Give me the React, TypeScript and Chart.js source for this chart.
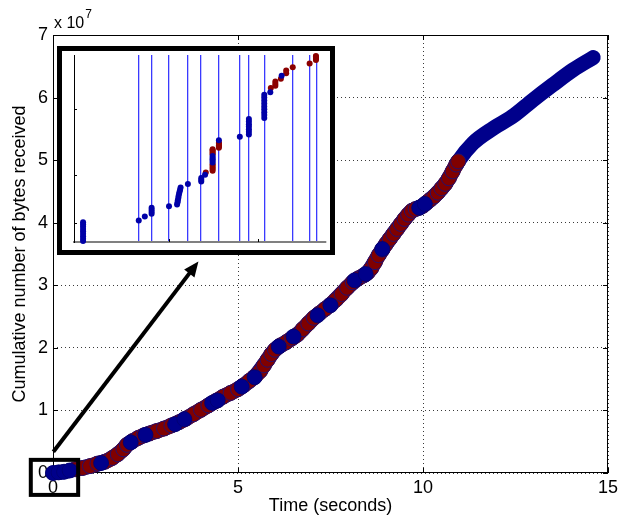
import React, { useEffect, useRef } from 'react';
import { Chart, registerables } from 'chart.js';

Chart.register(...registerables);

const FONT = '"Liberation Sans", Arial, Helvetica, sans-serif';

// ---- main axes ----
const xTicks = [0, 5, 10, 15];
const yTicks = [0, 1, 2, 3, 4, 5, 6, 7];
const xLabel = 'Time (seconds)';
const yLabel = 'Cumulative number of bytes received';
const yExponent = '7';

// ---- main series (time in s, bytes in units of 1e7) ----
const bandTime = [0, 0.3, 0.6, 1.0, 1.4, 1.6, 1.9, 2.0, 2.3, 2.6, 3.0, 3.4, 4.0, 4.6, 5.0, 5.45, 5.8, 6.0, 6.3, 6.6, 7.05, 7.5, 7.95, 8.25, 8.5, 8.8, 9.0, 9.4, 9.7, 9.9, 10.2, 10.6, 10.95, 11.35, 11.9, 12.4, 12.97, 13.5, 14.05, 14.6];
const bandBytes = [0, 0.02, 0.06, 0.11, 0.18, 0.24, 0.38, 0.45, 0.56, 0.63, 0.71, 0.81, 1.01, 1.22, 1.34, 1.54, 1.81, 1.97, 2.09, 2.21, 2.48, 2.69, 2.96, 3.11, 3.2, 3.48, 3.66, 3.98, 4.19, 4.24, 4.37, 4.62, 4.98, 5.27, 5.51, 5.69, 5.96, 6.2, 6.44, 6.64];

const redTime = [0.6, 0.8, 1.0, 1.2, 1.4, 1.6, 1.75, 1.9, 2.0, 2.15, 2.3, 2.45, 2.6, 2.8, 3.0, 3.2, 3.4, 3.6, 3.8, 4.0, 4.2, 4.4, 4.6, 4.8, 5.0, 5.15, 5.3, 5.45, 5.6, 5.7, 5.8, 5.9, 6.0, 6.15, 6.3, 6.45, 6.6, 6.75, 6.9, 7.05, 7.2, 7.35, 7.5, 7.65, 7.8, 7.95, 8.1, 8.25, 8.4, 8.5, 8.6, 8.7, 8.8, 8.9, 9.0, 9.1, 9.2, 9.3, 9.4, 9.5, 9.6, 9.7, 9.8, 9.9, 10.0, 10.1, 10.2, 10.3, 10.4, 10.5, 10.6, 10.7, 10.8, 10.9, 10.95];
const redBytes = [0.06, 0.08, 0.11, 0.15, 0.18, 0.24, 0.3, 0.38, 0.45, 0.51, 0.56, 0.6, 0.63, 0.67, 0.71, 0.76, 0.81, 0.87, 0.94, 1.01, 1.08, 1.15, 1.22, 1.28, 1.34, 1.4, 1.47, 1.54, 1.63, 1.72, 1.81, 1.9, 1.97, 2.04, 2.09, 2.15, 2.21, 2.3, 2.39, 2.48, 2.55, 2.62, 2.69, 2.77, 2.86, 2.96, 3.05, 3.11, 3.16, 3.2, 3.27, 3.37, 3.48, 3.57, 3.66, 3.74, 3.82, 3.9, 3.98, 4.06, 4.13, 4.19, 4.22, 4.24, 4.27, 4.32, 4.37, 4.42, 4.48, 4.55, 4.62, 4.71, 4.82, 4.93, 4.98];

const blueTime = [0.0, 0.15, 0.3, 0.45, 1.3, 2.1, 2.5, 3.3, 3.55, 4.3, 4.45, 5.1, 5.45, 6.1, 6.5, 7.15, 7.5, 8.15, 8.45, 8.9, 9.9, 10.05];
const blueBytes = [0.0, 0.01, 0.02, 0.04, 0.16, 0.49, 0.61, 0.78, 0.86, 1.12, 1.16, 1.38, 1.53, 2.02, 2.18, 2.52, 2.68, 3.08, 3.18, 3.58, 4.24, 4.3];

// zoom box and arrow (data units)
const zoomBoxTime = [-0.6, 0.68];
const zoomBoxBytes = [-0.35, 0.21];
const arrowTime = [0.01, 3.93];
const arrowBytes = [0.34, 3.38];

// ---- inset (relative units 0..100) ----
const insetLineX = [25.6, 30.8, 37.7, 45.1, 50.2, 57.5, 65.8, 69.4, 75.5, 86.8, 93.7, 96.3];
const insetBlueX = [3.6, 3.6, 3.6, 3.6, 3.6, 3.6, 3.6, 3.6, 3.6, 25.7, 28.1, 30.8, 30.8, 30.8, 30.8, 37.7, 40.9, 41.1, 41.2, 41.4, 41.5, 41.7, 41.9, 42.1, 42.3, 45.2, 50.5, 50.5, 50.5, 52.0, 55.0, 55.0, 55.0, 55.0, 55.0, 57.5, 65.8, 69.4, 69.4, 69.4, 69.4, 69.4, 69.4, 69.4, 75.5, 75.5, 75.5, 75.5, 75.5, 75.5, 75.5, 75.5, 75.5, 77.9, 82.4];
const insetBlueY = [0.5, 1.8, 3.1, 4.4, 5.7, 7.0, 8.3, 9.5, 10.6, 11.5, 13.6, 15.1, 16.2, 17.3, 18.3, 19.1, 20.0, 21.2, 22.3, 23.5, 24.6, 25.8, 26.9, 28.0, 29.2, 31.0, 32.4, 33.3, 34.2, 35.9, 42.5, 43.4, 44.2, 45.1, 46.0, 54.4, 56.3, 57.5, 58.9, 60.3, 61.7, 63.0, 64.4, 65.8, 66.3, 67.9, 69.4, 71.0, 72.5, 74.1, 75.7, 77.3, 78.8, 80.1, 88.9];
const insetRedX = [52.3, 55.0, 55.0, 55.0, 55.0, 55.0, 55.0, 55.0, 55.0, 55.0, 55.0, 57.5, 57.5, 57.5, 57.5, 57.5, 78.1, 79.9, 79.9, 79.9, 82.1, 84.2, 84.2, 86.8, 93.5, 96.0, 96.0, 96.0, 96.0, 96.0];
const insetRedY = [37.2, 38.1, 39.0, 39.9, 40.8, 41.6, 46.9, 47.6, 48.3, 49.0, 49.6, 50.4, 51.1, 51.8, 52.5, 53.1, 82.3, 83.5, 84.6, 85.8, 87.3, 90.2, 91.7, 93.4, 95.5, 97.3, 97.8, 98.4, 99.0, 99.5];
const insetYTicks = [10.3, 35.8, 70.9];
const insetXTicks = [37.7, 72.9];

const pts = (xs: number[], ys: number[]) => xs.map((x, i) => ({ x, y: ys[i] }));

const mainDecor = {
  id: 'mainDecor',
  beforeDatasetsDraw(chart: any) {
    const { ctx, chartArea: a, scales } = chart;
    const x = scales.x, y = scales.y;
    ctx.save();
    ctx.strokeStyle = '#000';
    ctx.lineWidth = 1;
    ctx.strokeRect(a.left + 0.5, a.top + 0.5, a.right - a.left - 1, a.bottom - a.top - 1);
    ctx.beginPath();
    for (const t of xTicks) {
      const px = Math.round(x.getPixelForValue(t)) + 0.5;
      ctx.moveTo(px, a.bottom); ctx.lineTo(px, a.bottom - 5);
      ctx.moveTo(px, a.top); ctx.lineTo(px, a.top + 5);
    }
    for (const t of yTicks) {
      const py = Math.round(y.getPixelForValue(t)) + 0.5;
      ctx.moveTo(a.left, py); ctx.lineTo(a.left + 5, py);
      ctx.moveTo(a.right, py); ctx.lineTo(a.right - 5, py);
    }
    ctx.stroke();
    ctx.restore();
  },
  afterDraw(chart: any) {
    const { ctx, chartArea: a, scales } = chart;
    const x = scales.x, y = scales.y;
    ctx.save();
    // zoom box
    const bx0 = x.getPixelForValue(zoomBoxTime[0]);
    const bx1 = x.getPixelForValue(zoomBoxTime[1]);
    const by0 = y.getPixelForValue(zoomBoxBytes[1]);
    const by1 = y.getPixelForValue(zoomBoxBytes[0]);
    ctx.strokeStyle = '#000';
    ctx.lineWidth = 4;
    ctx.strokeRect(bx0, by0, bx1 - bx0, by1 - by0);
    // arrow
    const p0x = x.getPixelForValue(arrowTime[0]);
    const p0y = y.getPixelForValue(arrowBytes[0]);
    const p1x = x.getPixelForValue(arrowTime[1]);
    const p1y = y.getPixelForValue(arrowBytes[1]);
    const ang = Math.atan2(p1y - p0y, p1x - p0x);
    const hl = 15, hw = 6.5;
    const baseX = p1x - hl * Math.cos(ang), baseY = p1y - hl * Math.sin(ang);
    ctx.lineWidth = 4;
    ctx.lineCap = 'butt';
    ctx.beginPath();
    ctx.moveTo(p0x, p0y);
    ctx.lineTo(baseX + 2 * Math.cos(ang), baseY + 2 * Math.sin(ang));
    ctx.stroke();
    ctx.fillStyle = '#000';
    ctx.beginPath();
    ctx.moveTo(p1x, p1y);
    ctx.lineTo(baseX + hw * Math.sin(ang), baseY - hw * Math.cos(ang));
    ctx.lineTo(baseX - hw * Math.sin(ang), baseY + hw * Math.cos(ang));
    ctx.closePath();
    ctx.fill();
    // exponent label
    ctx.fillStyle = '#000';
    ctx.textBaseline = 'alphabetic';
    ctx.textAlign = 'left';
    ctx.font = `16px ${FONT}`;
    const base = 'x 10';
    ctx.fillText(base, a.left + 1, a.top - 7);
    const w = ctx.measureText(base).width;
    ctx.font = `12px ${FONT}`;
    ctx.fillText(yExponent, a.left + 2 + w, a.top - 17);
    ctx.restore();
  },
};

const insetDecor = {
  id: 'insetDecor',
  afterDraw(chart: any) {
    const { ctx, chartArea: a, scales } = chart;
    ctx.save();
    ctx.strokeStyle = '#000';
    ctx.lineWidth = 1;
    ctx.beginPath();
    for (const v of insetYTicks) {
      const py = Math.round(scales.y.getPixelForValue(v)) + 0.5;
      ctx.moveTo(a.left, py); ctx.lineTo(a.left + 3, py);
    }
    for (const v of insetXTicks) {
      const px = Math.round(scales.x.getPixelForValue(v)) + 0.5;
      ctx.moveTo(px, a.bottom); ctx.lineTo(px, a.bottom - 3);
    }
    ctx.stroke();
    ctx.restore();
  },
};

export default function App() {
  const mainRef = useRef<HTMLCanvasElement>(null);
  const insetRef = useRef<HTMLCanvasElement>(null);

  useEffect(() => {
    const main = new Chart(mainRef.current as HTMLCanvasElement, {
      type: 'scatter',
      data: {
        datasets: [
          {
            label: 'blue markers',
            data: pts(blueTime, blueBytes),
            pointRadius: 7.5,
            pointBackgroundColor: '#00008b',
            pointBorderColor: '#000070',
            pointBorderWidth: 0.8,
            order: 1,
            clip: false,
          } as any,
          {
            label: 'red markers',
            data: pts(redTime, redBytes),
            pointRadius: 7.5,
            pointBackgroundColor: '#800000',
            pointBorderColor: '#24106e',
            pointBorderWidth: 1,
            order: 2,
            clip: false,
          },
          {
            label: 'red band',
            data: pts(redTime, redBytes),
            showLine: true,
            pointRadius: 0,
            borderColor: '#800000',
            borderWidth: 15,
            borderCapStyle: 'round',
            borderJoinStyle: 'round',
            cubicInterpolationMode: 'monotone',
            order: 3,
            clip: false,
          },
          {
            label: 'received',
            data: pts(bandTime, bandBytes),
            showLine: true,
            pointRadius: 0,
            borderColor: '#00008b',
            borderWidth: 15,
            borderCapStyle: 'round',
            borderJoinStyle: 'round',
            cubicInterpolationMode: 'monotone',
            order: 4,
            clip: false,
          },
        ],
      },
      options: {
        animation: false,
        responsive: false,
        events: [],
        layout: { padding: { left: 0, top: 35, right: 23, bottom: 0 } },
        plugins: { legend: { display: false }, tooltip: { enabled: false } },
        scales: {
          x: {
            type: 'linear',
            min: 0,
            max: 15,
            afterFit: (s: any) => { s.height = 44; },
            afterBuildTicks: (s: any) => { s.ticks = xTicks.map((v) => ({ value: v })); },
            ticks: { color: '#000', font: { family: FONT, size: 18 }, padding: 4, maxRotation: 0, autoSkip: false },
            grid: { color: '#3a3a3a', lineWidth: 1, drawTicks: false },
            border: { display: false, dash: [1, 3] },
            title: { display: true, text: xLabel, color: '#000', font: { family: FONT, size: 18 }, padding: { top: 0, bottom: 0 } },
          },
          y: {
            type: 'linear',
            min: 0,
            max: 7,
            afterFit: (s: any) => { s.width = 53; },
            afterBuildTicks: (s: any) => { s.ticks = yTicks.map((v) => ({ value: v })); },
            ticks: { color: '#000', font: { family: FONT, size: 18 }, padding: 5 },
            grid: { color: '#3a3a3a', lineWidth: 1, drawTicks: false },
            border: { display: false, dash: [1, 3] },
            title: { display: true, text: yLabel, color: '#000', font: { family: FONT, size: 18 }, padding: { top: 9, bottom: 0 } },
          },
        },
      },
      plugins: [mainDecor],
    } as any);

    const inset = new Chart(insetRef.current as HTMLCanvasElement, {
      type: 'scatter',
      data: {
        datasets: [
          {
            label: 'inset blue',
            data: pts(insetBlueX, insetBlueY),
            pointRadius: 3,
            pointBackgroundColor: '#0000a8',
            pointBorderWidth: 0,
            order: 1,
            clip: false,
          } as any,
          {
            label: 'inset red',
            data: pts(insetRedX, insetRedY),
            pointRadius: 3,
            pointBackgroundColor: '#8b0000',
            pointBorderWidth: 0,
            order: 2,
            clip: false,
          },
        ],
      },
      options: {
        animation: false,
        responsive: false,
        events: [],
        layout: { padding: { left: 12, top: 2, right: 4, bottom: 8 } },
        plugins: { legend: { display: false }, tooltip: { enabled: false } },
        scales: {
          x: {
            type: 'linear',
            min: 0,
            max: 100,
            afterFit: (s: any) => { s.height = 0; },
            afterBuildTicks: (s: any) => { s.ticks = insetLineX.map((v) => ({ value: v })); },
            ticks: { display: false },
            grid: { color: '#3a3aff', lineWidth: 1.3, drawTicks: false },
            border: { color: '#808080', width: 2 },
          },
          y: {
            type: 'linear',
            min: 0,
            max: 100,
            afterFit: (s: any) => { s.width = 0; },
            ticks: { display: false },
            grid: { display: false, drawTicks: false },
            border: { color: '#000', width: 1 },
          },
        },
      },
      plugins: [insetDecor],
    } as any);

    return () => {
      main.destroy();
      inset.destroy();
    };
  }, []);

  return (
    <div style={{ position: 'absolute', left: 0, top: 0, width: 631, height: 517, background: '#fff' }}>
      <canvas ref={mainRef} width={631} height={517} style={{ position: 'absolute', left: 0, top: 0, display: 'block' }} />
      <div
        style={{
          position: 'absolute',
          left: 57,
          top: 46,
          width: 278,
          height: 209,
          border: '5px solid #000',
          boxSizing: 'border-box',
          background: '#fff',
        }}
      >
        <canvas ref={insetRef} width={268} height={199} style={{ display: 'block' }} />
      </div>
    </div>
  );
}
